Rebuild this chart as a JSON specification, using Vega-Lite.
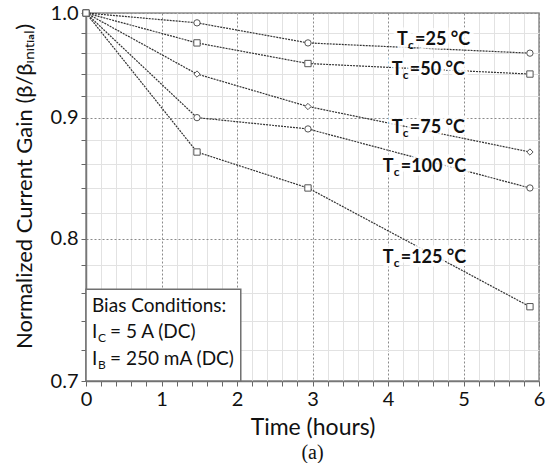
{
  "$schema": "https://vega.github.io/schema/vega-lite/v6.json",
  "width": 453,
  "height": 368,
  "autosize": {"type": "none"},
  "padding": {"left": 86, "top": 13, "right": 13, "bottom": 82},
  "background": "white",
  "config": {
    "view": {"stroke": "#8c8c8c", "strokeWidth": 1.5},
    "font": "Lato"
  },
  "title": {"text": "(a)", "orient": "bottom", "font": "Liberation Serif", "fontSize": 20, "fontWeight": "normal", "color": "#111", "offset": 4},
  "datasets": {
    "series": [
      {"s": "25", "t": 0, "v": 1.0}, {"s": "25", "t": 1.47, "v": 0.99}, {"s": "25", "t": 2.94, "v": 0.97}, {"s": "25", "t": 5.88, "v": 0.96},
      {"s": "50", "t": 0, "v": 1.0}, {"s": "50", "t": 1.47, "v": 0.97}, {"s": "50", "t": 2.94, "v": 0.95}, {"s": "50", "t": 5.88, "v": 0.94},
      {"s": "75", "t": 0, "v": 1.0}, {"s": "75", "t": 1.47, "v": 0.94}, {"s": "75", "t": 2.94, "v": 0.91}, {"s": "75", "t": 5.88, "v": 0.87},
      {"s": "100", "t": 0, "v": 1.0}, {"s": "100", "t": 1.47, "v": 0.90}, {"s": "100", "t": 2.94, "v": 0.89}, {"s": "100", "t": 5.88, "v": 0.84},
      {"s": "125", "t": 0, "v": 1.0}, {"s": "125", "t": 1.47, "v": 0.87}, {"s": "125", "t": 2.94, "v": 0.84}, {"s": "125", "t": 5.88, "v": 0.75}
    ],
    "labels": [
      {"t": 4.12, "v": 0.9677, "main": "T", "sub": "c", "rest": "=25 °C"},
      {"t": 4.05, "v": 0.9388, "main": "T", "sub": "c", "rest": "=50 °C"},
      {"t": 4.05, "v": 0.8862, "main": "T", "sub": "c", "rest": "=75 °C"},
      {"t": 3.93, "v": 0.8529, "main": "T", "sub": "c", "rest": "=100 °C"},
      {"t": 3.93, "v": 0.7814, "main": "T", "sub": "c", "rest": "=125 °C"}
    ],
    "box": [
      {"t": 0, "t2": 2.05, "v": 0.7, "v2": 0.7624}
    ],
    "boxtext": [
      {"t": 0.08, "v": 0.7463, "main": "Bias Conditions:", "sub": "", "rest": ""},
      {"t": 0.08, "v": 0.7282, "main": "I", "sub": "C", "rest": "= 5 A (DC)"},
      {"t": 0.08, "v": 0.7102, "main": "I", "sub": "B", "rest": "= 250 mA (DC)"}
    ]
  },
  "encoding": {
    "x": {
      "field": "t", "type": "quantitative",
      "scale": {"domain": [0, 6], "nice": false},
      "axis": {
        "values": [0,0.2,0.4,0.6,0.8,1,1.2,1.4,1.6,1.8,2,2.2,2.4,2.6,2.8,3,3.2,3.4,3.6,3.8,4,4.2,4.4,4.6,4.8,5,5.2,5.4,5.6,5.8,6],
        "grid": true,
        "gridColor": {"condition": {"test": "abs(datum.value - round(datum.value)) < 1e-6", "value": "#8a8a8a"}, "value": "#e2e2e2"},
        "gridDash": {"condition": {"test": "abs(datum.value - round(datum.value)) < 1e-6", "value": [2, 2]}, "value": []},
        "gridWidth": 1,
        "tickSize": 5,
        "tickColor": "#666",
        "labelExpr": "abs(datum.value - round(datum.value)) < 1e-6 ? format(datum.value, 'd') : ''",
        "labelOverlap": false,
        "labelFlush": false,
        "labelPadding": 3,
        "labelFontSize": 20,
        "labelColor": "#111",
        "domainColor": "#777",
        "domainWidth": 1.5,
        "title": "Time (hours)",
        "titleFontSize": 23,
        "titleFontWeight": "normal",
        "titleColor": "#111",
        "titleY": 46,
        "titleBaseline": "middle"
      }
    },
    "y": {
      "field": "v", "type": "quantitative",
      "scale": {"type": "pow", "exponent": -0.3, "domain": [0.7, 1.0], "nice": false, "zero": false},
      "axis": {
        "values": [0.7,0.72,0.74,0.76,0.78,0.8,0.82,0.84,0.86,0.88,0.9,0.92,0.94,0.96,0.98,1.0],
        "grid": true,
        "gridColor": {"condition": {"test": "abs(datum.value*10 - round(datum.value*10)) < 1e-6", "value": "#8a8a8a"}, "value": "#e2e2e2"},
        "gridDash": {"condition": {"test": "abs(datum.value*10 - round(datum.value*10)) < 1e-6", "value": [2, 2]}, "value": []},
        "tickSize": 5,
        "tickColor": "#666",
        "labelExpr": "abs(datum.value*10 - round(datum.value*10)) < 1e-6 ? format(datum.value, '.1f') : ''",
        "labelOverlap": false,
        "labelFlush": false,
        "labelPadding": 3,
        "labelFontSize": 20,
        "labelColor": "#111",
        "domainColor": "#777",
        "domainWidth": 1.5,
        "title": "Normalized Current Gain (β/βᵢₙᵢₜᵢₐₗ)",
        "titleFontSize": 22,
        "titleFontWeight": "normal",
        "titleColor": "#111",
        "titleAngle": -90,
        "titleX": -62,
        "titleY": 173,
        "titleAlign": "center",
        "titleBaseline": "middle"
      }
    }
  },
  "layer": [
    {
      "data": {"name": "box"},
      "mark": {"type": "rect", "fill": "white", "stroke": "#707070", "strokeWidth": 1.5},
      "encoding": {"x2": {"field": "t2"}, "y2": {"field": "v2"}}
    },
    {
      "data": {"name": "series"},
      "mark": {"type": "line", "color": "#333", "strokeWidth": 1.2, "strokeDash": [2, 1]},
      "encoding": {"detail": {"field": "s"}}
    },
    {
      "data": {"name": "series"},
      "mark": {"type": "point", "filled": true, "fill": "white", "stroke": "#555", "strokeWidth": 1, "size": 40, "opacity": 1},
      "encoding": {
        "shape": {"field": "s", "type": "nominal", "scale": {"domain": ["25", "50", "75", "100", "125"], "range": ["circle", "square", "diamond", "circle", "square"]}, "legend": null}
      }
    },
    {
      "data": {"name": "labels"},
      "mark": {"type": "text", "align": "left", "baseline": "alphabetic", "fontSize": 18, "fontWeight": "bold", "fill": "white", "stroke": "white", "strokeWidth": 7, "strokeOpacity": 0.85},
      "encoding": {"text": {"field": "main"}}
    },
    {
      "data": {"name": "labels"},
      "mark": {"type": "text", "align": "left", "baseline": "alphabetic", "fontSize": 18, "fontWeight": "bold", "fill": "white", "stroke": "white", "strokeWidth": 7, "strokeOpacity": 0.85, "dx": 18},
      "encoding": {"text": {"field": "rest"}}
    },
    {
      "data": {"name": "labels"},
      "mark": {"type": "text", "align": "left", "baseline": "alphabetic", "fontSize": 18, "fontWeight": "bold", "color": "#111"},
      "encoding": {"text": {"field": "main"}}
    },
    {
      "data": {"name": "labels"},
      "mark": {"type": "text", "align": "left", "baseline": "alphabetic", "fontSize": 12, "fontWeight": "bold", "color": "#111", "dx": 11, "dy": 4},
      "encoding": {"text": {"field": "sub"}}
    },
    {
      "data": {"name": "labels"},
      "mark": {"type": "text", "align": "left", "baseline": "alphabetic", "fontSize": 18, "fontWeight": "bold", "color": "#111", "dx": 18},
      "encoding": {"text": {"field": "rest"}}
    },
    {
      "data": {"name": "boxtext"},
      "mark": {"type": "text", "align": "left", "baseline": "alphabetic", "fontSize": 19, "color": "#111"},
      "encoding": {"text": {"field": "main"}}
    },
    {
      "data": {"name": "boxtext"},
      "mark": {"type": "text", "align": "left", "baseline": "alphabetic", "fontSize": 12, "color": "#111", "dx": 6, "dy": 4},
      "encoding": {"text": {"field": "sub"}}
    },
    {
      "data": {"name": "boxtext"},
      "mark": {"type": "text", "align": "left", "baseline": "alphabetic", "fontSize": 19, "color": "#111", "dx": 18},
      "encoding": {"text": {"field": "rest"}}
    }
  ]
}
